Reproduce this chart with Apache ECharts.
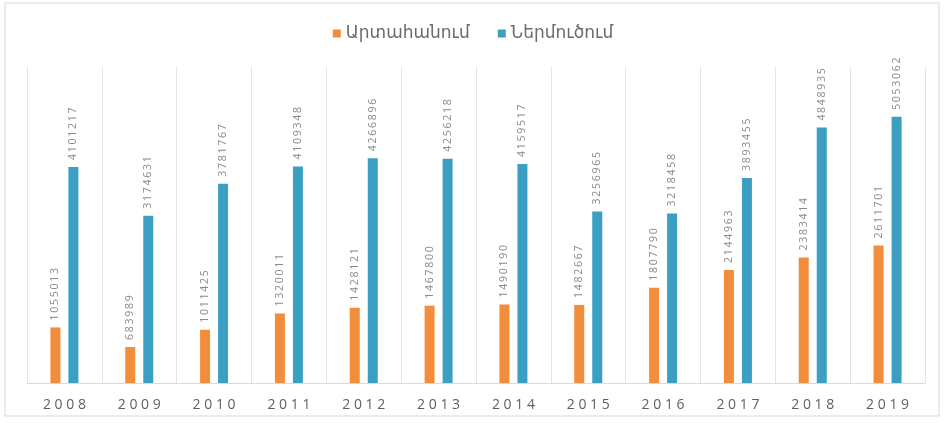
<!DOCTYPE html>
<html>
<head>
<meta charset="utf-8">
<script src="https://cdn.jsdelivr.net/npm/echarts@6/dist/echarts.min.js"></script>
<style>
  html, body { margin: 0; padding: 0; background: #fff; }
  #chart { width: 946px; height: 423px; }
</style>
</head>
<body>
<div id="chart"></div>
<script>
// Տարիներ
const years = ['2008', '2009', '2010', '2011', '2012', '2013', '2014', '2015', '2016', '2017', '2018', '2019'];
// Արտահանում
const exportValues = [1055013, 683989, 1011425, 1320011, 1428121, 1467800, 1490190, 1482667, 1807790, 2144963, 2383414, 2611701];
// Ներմուծում
const importValues = [4101217, 3174631, 3781767, 4109348, 4266896, 4256218, 4159517, 3256965, 3218458, 3893455, 4848935, 5053062];

const chart = echarts.init(document.getElementById('chart'));

// spread digits a little, like the original labels
const spaced = (s, sep) => String(s).split('').join(sep);

const barLabel = {
  show: true,
  position: 'top',
  rotate: 90,
  align: 'left',
  verticalAlign: 'middle',
  distance: 7,
  color: '#8a8a8a',
  fontSize: 10.5,
  fontFamily: 'Open Sans',
  formatter: p => spaced(p.value, '\u2009')
};

const option = {
  animation: false,
  textStyle: { fontFamily: 'Noto Sans' },
  graphic: [
    {
      type: 'rect',
      shape: { x: 5, y: 3, width: 934, height: 413 },
      style: { fill: 'none', stroke: '#d9d9d9', lineWidth: 1 }
    }
  ],
  legend: {
    top: 20,
    left: 'center',
    itemWidth: 8,
    itemHeight: 8,
    itemGap: 28,
    icon: 'rect',
    textStyle: { color: '#6b6b6b', fontSize: 17, fontFamily: 'DejaVu Sans' },
    data: ['Արտահանում', 'Ներմուծում']
  },
  grid: {
    left: 27,
    right: 21,
    top: 67,
    bottom: 40
  },
  xAxis: {
    type: 'category',
    data: years,
    axisLine: { show: true, lineStyle: { color: '#d9d9d9' } },
    axisTick: { show: false },
    splitLine: { show: true, lineStyle: { color: '#e3e3e3' } },
    axisLabel: {
      color: '#5f5f5f',
      fontSize: 14,
      margin: 15,
      fontFamily: 'Open Sans',
      formatter: v => spaced(v, ' ')
    }
  },
  yAxis: {
    type: 'value',
    min: 0,
    max: 6000000,
    show: false,
    splitLine: { show: false }
  },
  series: [
    {
      name: 'Արտահանում',
      type: 'bar',
      data: exportValues,
      barWidth: 10,
      barGap: '80%',
      itemStyle: { color: '#f28e3b' },
      label: barLabel
    },
    {
      name: 'Ներմուծում',
      type: 'bar',
      data: importValues,
      barWidth: 10,
      itemStyle: { color: '#3a9fc1' },
      label: barLabel
    }
  ]
};

chart.setOption(option);
</script>
</body>
</html>
